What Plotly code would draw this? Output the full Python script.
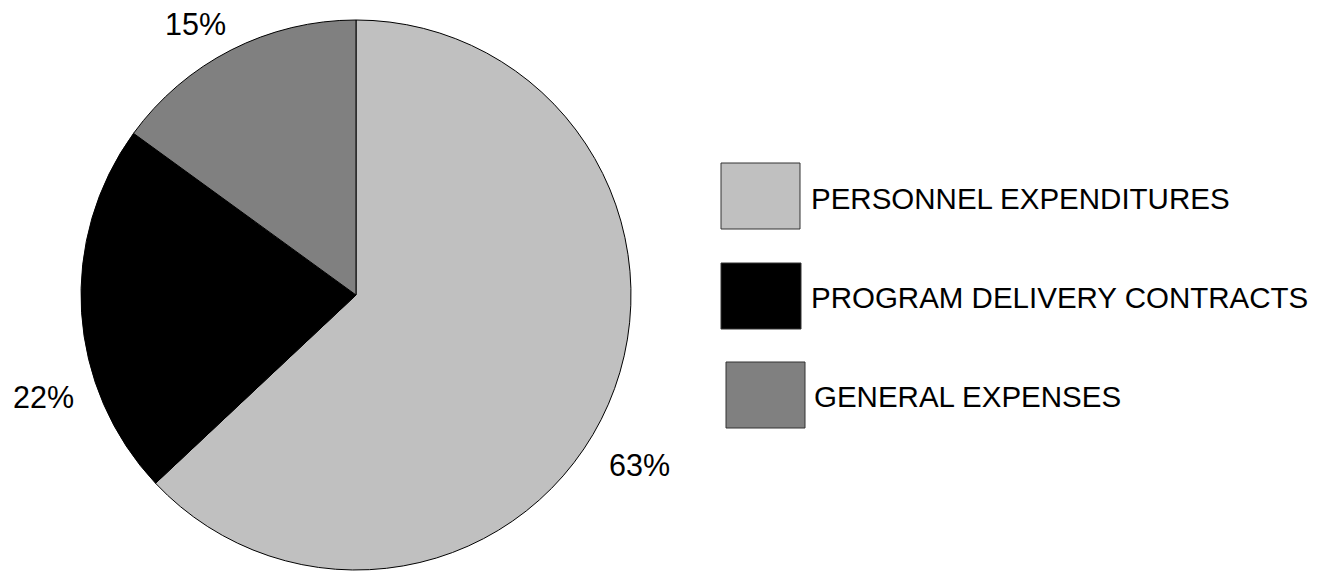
import plotly.graph_objects as go

# Budget breakdown
categories = ["PERSONNEL EXPENDITURES", "PROGRAM DELIVERY CONTRACTS", "GENERAL EXPENSES"]
shares = [63, 22, 15]
colors = ["#c0c0c0", "#000000", "#808080"]

W, H = 1322, 572
FONT = "Liberation Sans, Arial, sans-serif"


def px(x):
    return x / W


def py(y):
    return 1 - y / H


fig = go.Figure(
    go.Pie(
        labels=categories,
        values=shares,
        sort=False,
        direction="clockwise",
        rotation=0,
        marker=dict(colors=colors, line=dict(color="#000000", width=1)),
        textinfo="none",
        hoverinfo="label+percent",
        showlegend=False,
        domain=dict(x=[px(81), px(631)], y=[py(570), py(20)]),
    )
)

# Percentage labels placed around the pie
label_pos = [(639, 465), (43, 397), (195, 24)]
annotations = []
for v, (lx, ly) in zip(shares, label_pos):
    annotations.append(
        dict(
            x=px(lx), y=py(ly), xref="paper", yref="paper",
            text=f"{v}%", showarrow=False,
            xanchor="center", yanchor="middle",
            font=dict(family=FONT, size=30.5, color="#000000"),
        )
    )

# Custom legend: large swatches with text
legend_boxes = [(721, 163, 800, 229), (721, 263, 801, 329), (726, 362, 805, 428)]
legend_text_pos = [(809, 198), (809, 297), (812, 396)]
shapes = []
for cat, col, (x0, y0, x1, y1), (tx, ty) in zip(categories, colors, legend_boxes, legend_text_pos):
    shapes.append(
        dict(
            type="rect", xref="paper", yref="paper",
            x0=px(x0), x1=px(x1), y0=py(y1), y1=py(y0),
            fillcolor=col, line=dict(color="#333333", width=1),
        )
    )
    annotations.append(
        dict(
            x=px(tx), y=py(ty), xref="paper", yref="paper",
            text=cat, showarrow=False,
            xanchor="left", yanchor="middle",
            font=dict(family=FONT, size=29.5, color="#000000"),
        )
    )

fig.update_layout(
    width=W, height=H,
    margin=dict(l=0, r=0, t=0, b=0),
    paper_bgcolor="#ffffff",
    plot_bgcolor="#ffffff",
    shapes=shapes,
    annotations=annotations,
)

fig.write_html("out.html")
